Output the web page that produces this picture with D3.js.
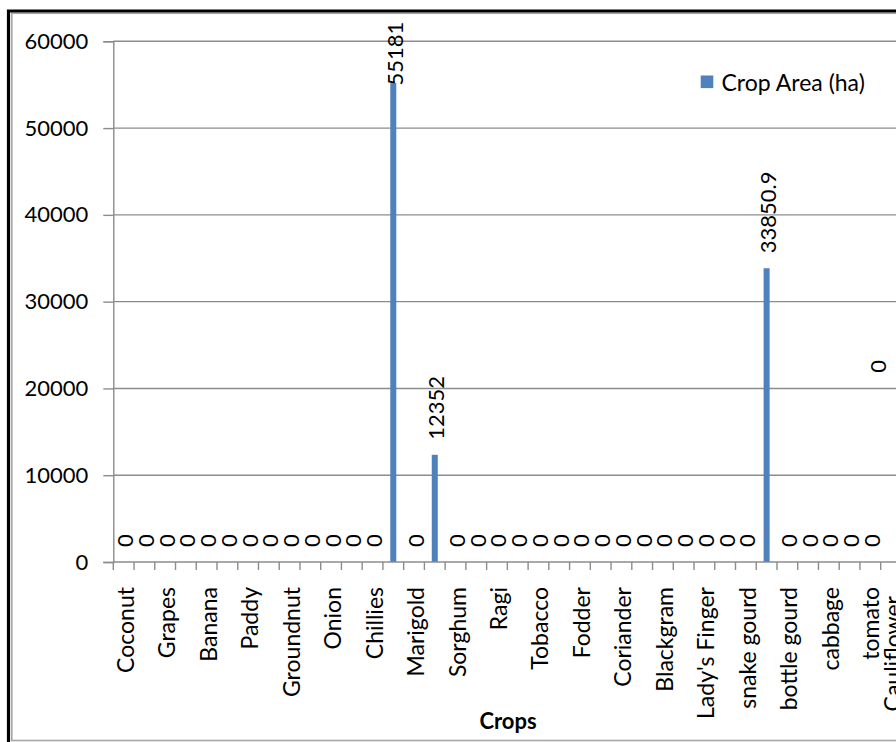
<!DOCTYPE html>
<html>
<head>
<meta charset="utf-8">
<script src="https://cdn.jsdelivr.net/npm/d3@7"></script>
<style>
  html, body { margin: 0; padding: 0; background: #fff; }
  svg { display: block; font-family: Lato, "Open Sans", sans-serif; }
</style>
</head>
<body>
<svg id="chart" width="896" height="742"></svg>
<script>
// Crop names along the category axis (only every other one is printed; unnamed slots stay blank)
const crops = [
  "Coconut", "", "Grapes", "", "Banana", "", "Paddy", "", "Groundnut", "",
  "Onion", "", "Chillies", "", "Marigold", "", "Sorghum", "", "Ragi", "",
  "Tobacco", "", "Fodder", "", "Coriander", "", "Blackgram", "", "Lady's Finger", "",
  "snake gourd", "", "bottle gourd", "", "cabbage", "", "tomato", "Cauliflower"
];
// Crop area in hectares, one value per category slot
const cropArea = [
  0, 0, 0, 0, 0, 0, 0, 0, 0, 0,
  0, 0, 0, 55181, 0, 12352, 0, 0, 0, 0,
  0, 0, 0, 0, 0, 0, 0, 0, 0, 0,
  0, 33850.9, 0, 0, 0, 0, 0, 0
];
const yTicks = [0, 10000, 20000, 30000, 40000, 50000, 60000];
const seriesName = "Crop Area (ha)";
const axisTitle = "Crops";

const svg = d3.select("#chart");
const numSize = 22;
const textSize = 23;
const axisGrey = "#8c8c8c";
const barBlue = "#4f81bd";

// Plot geometry
const plotLeft = 113.3, plotBottom = 562, plotTop = 41.3;
const step = 20.74;
const n = crops.length;
const idx = d3.range(n);

const x = d3.scaleBand()
  .domain(idx)
  .range([plotLeft, plotLeft + n * step])
  .paddingInner(0.71)
  .paddingOuter(0.355);

const y = d3.scaleLinear().domain([0, 60000]).range([plotBottom, plotTop]);

// Chart frame
svg.append("rect").attr("x", 11.8).attr("y", 13.3).attr("width", 1000).attr("height", 727.2)
  .attr("fill", "none").attr("stroke", "#a6a6a6").attr("stroke-width", 1.6);
svg.append("path").attr("d", "M8.5,742 V11 H896")
  .attr("fill", "none").attr("stroke", "#000").attr("stroke-width", 3.2);

// Horizontal gridlines
svg.append("g").selectAll("line").data(yTicks.filter(d => d > 0)).join("line")
  .attr("x1", plotLeft).attr("x2", 896)
  .attr("y1", d => y(d)).attr("y2", d => y(d))
  .attr("stroke", axisGrey).attr("stroke-width", 1.4);

// Y axis
const yAxis = svg.append("g").attr("transform", `translate(${plotLeft},0)`)
  .call(d3.axisLeft(y).tickValues(yTicks).tickSize(10).tickPadding(15).tickFormat(d3.format("d")));
yAxis.select(".domain").attr("stroke", axisGrey).attr("stroke-width", 1.4);
yAxis.selectAll(".tick line").attr("stroke", axisGrey).attr("stroke-width", 1.4);
yAxis.selectAll(".tick text").attr("font-size", numSize).attr("fill", "#000")
  .attr("font-family", "Lato, sans-serif");

// Bars
svg.append("g").selectAll("rect").data(idx).join("rect")
  .attr("x", i => x(i))
  .attr("width", x.bandwidth())
  .attr("y", i => y(cropArea[i]))
  .attr("height", i => plotBottom - y(cropArea[i]))
  .attr("fill", barBlue);

// X axis line and tick marks at category boundaries
svg.append("line").attr("x1", plotLeft).attr("x2", 896).attr("y1", plotBottom).attr("y2", plotBottom)
  .attr("stroke", axisGrey).attr("stroke-width", 1.4);
const boundaries = d3.range(n + 1).map(i => plotLeft + i * x.step());
svg.append("g").selectAll("line").data(boundaries).join("line")
  .attr("x1", d => d).attr("x2", d => d)
  .attr("y1", plotBottom).attr("y2", plotBottom + 8)
  .attr("stroke", axisGrey).attr("stroke-width", 1.4);

// Category labels, rotated
const catOffset = i => (i === n - 1 ? 9 : 0);
svg.append("g").selectAll("text").data(idx.filter(i => crops[i] !== "")).join("text")
  .attr("transform", i => `translate(${x(i) + x.bandwidth() / 2 + 1 - (i === n - 2 ? 1.5 : 0)},${587 + catOffset(i)}) rotate(-90)`)
  .attr("text-anchor", "end")
  .attr("dominant-baseline", "central")
  .attr("font-size", textSize)
  .attr("fill", "#000")
  .text(i => crops[i]);

// Value labels above each bar, kept inside the chart top
const labelGap = 15, labelCeil = 21.7;
const valueLabels = svg.append("g").selectAll("text").data(idx).join("text")
  .attr("text-anchor", "start")
  .attr("dominant-baseline", "central")
  .attr("font-size", numSize)
  .attr("fill", "#000")
  .text(i => d3.format("")(cropArea[i]));
valueLabels.each(function (i) {
  const len = this.getComputedTextLength();
  let cx = x(i) + x.bandwidth() / 2 + 1;
  let startY = y(cropArea[i]) - labelGap;
  // the last slot's label sits raised, left of its slot
  if (i === n - 1) { startY = y(21800); cx -= 15; }
  if (startY - len < labelCeil) startY = labelCeil + len;
  d3.select(this).attr("transform", `translate(${cx},${startY}) rotate(-90)`);
});

// Legend
svg.append("rect").attr("x", 700.7).attr("y", 75.5).attr("width", 12.6).attr("height", 12.6).attr("fill", barBlue);
svg.append("text").attr("x", 721.5).attr("y", 82).attr("dominant-baseline", "central")
  .attr("font-size", textSize).attr("fill", "#000").text(seriesName);

// Axis title
svg.append("text").attr("x", 508).attr("y", 729).attr("text-anchor", "middle")
  .attr("font-size", numSize).attr("font-weight", "bold").attr("fill", "#000").text(axisTitle);
</script>
</body>
</html>
